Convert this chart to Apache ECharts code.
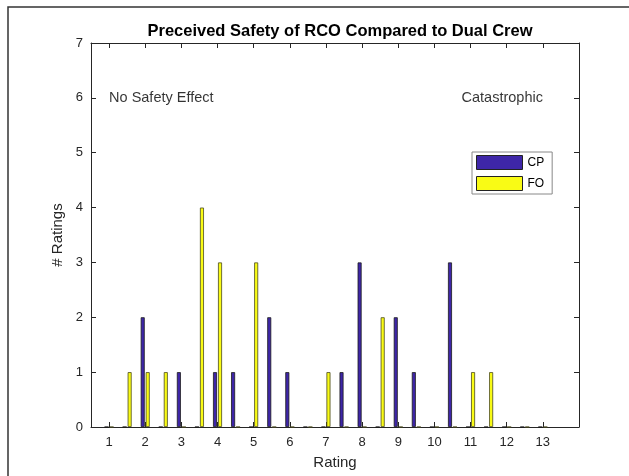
<!DOCTYPE html>
<html>
<head>
<meta charset="utf-8">
<script src="https://cdn.jsdelivr.net/npm/echarts@6/dist/echarts.min.js"></script>
<style>html,body{margin:0;padding:0;background:#fff}#c{width:629px;height:476px}</style>
</head>
<body>
<div id="c"></div>
<script>
// Rating positions (bar groups)
var ratings = [1,1.5,2,2.5,3,3.5,4,4.5,5,5.5,6,6.5,7,7.5,8,8.5,9,9.5,10,10.5,11,11.5,12,12.5,13];
var cpValues = [0,0,2,0,1,0,1,1,0,2,1,0,0,1,3,0,2,1,0,3,0,0,0,0,0];
var foValues = [0,1,1,1,0,4,3,0,3,0,0,0,1,0,0,2,0,0,0,0,1,1,0,0,0];
var xTicks = [1,2,3,4,5,6,7,8,9,10,11,12,13];
var yTicks = [0,1,2,3,4,5,6,7];
var annotations = [[1,6,'No Safety Effect'],[10.75,6,'Catastrophic']];
var seriesNames = ['CP','FO'];
var titleText = 'Preceived Safety of RCO Compared to Dual Crew';

var FONT = "'Liberation Sans', Arial, sans-serif";
var AX = '#262626';

function pairs(vals){ return ratings.map(function(r,i){ return [r, vals[i]]; }); }

var chart = echarts.init(document.getElementById('c'));
var xBase = {
  type:'value', min:0.5, max:14,
  axisLine:{show:true, onZero:false, lineStyle:{color:AX, width:1}},
  splitLine:{show:false},
  axisTick:{show:true, inside:true, length:5, customValues:xTicks, lineStyle:{color:AX}},
  axisLabel:{show:true, customValues:xTicks, color:AX, fontSize:13, fontFamily:FONT, margin:9}
};
var yBase = {
  type:'value', min:0, max:7, interval:1,
  axisLine:{show:true, onZero:false, lineStyle:{color:AX, width:1}},
  splitLine:{show:false},
  axisTick:{show:true, inside:true, length:5, lineStyle:{color:AX}},
  axisLabel:{show:true, color:AX, fontSize:13, fontFamily:FONT, margin:8}
};
var option = {
  animation:false,
  backgroundColor:'#fff',
  textStyle:{fontFamily:FONT},
  title:{text:titleText, left:335, textAlign:'center', top:18,
    textStyle:{fontSize:16.5, fontWeight:'bold', color:'#000', fontFamily:FONT}},
  grid:{left:91, right:50, top:43, bottom:49},
  legend:{data:seriesNames, orient:'vertical', left:472, top:152, itemWidth:46, itemHeight:14, itemGap:6,
    padding:[3,8,3,4], borderColor:'#888', borderWidth:1, backgroundColor:'#fff',
    textStyle:{fontSize:12, color:'#000', fontFamily:FONT}, icon:'rect',
    itemStyle:{borderColor:'#222', borderWidth:1}},
  xAxis:[
    Object.assign({}, xBase, {position:'bottom', name:'Rating', nameLocation:'middle', nameGap:28,
      nameTextStyle:{fontSize:15, color:AX, fontFamily:FONT}}),
    Object.assign({}, xBase, {position:'top', axisLabel:{show:false, customValues:xTicks}})
  ],
  yAxis:[
    Object.assign({}, yBase, {position:'left', name:'# Ratings', nameLocation:'middle', nameGap:22,
      nameTextStyle:{fontSize:15, color:AX, fontFamily:FONT}}),
    Object.assign({}, yBase, {position:'right', axisLabel:{show:false}})
  ],
  series:[
    {name:seriesNames[0], type:'bar', data:pairs(cpValues), barWidth:4, barGap:'25%',
      itemStyle:{color:'#3E26A8', borderColor:'#1a1a1a', borderWidth:0.8}},
    {name:seriesNames[1], type:'bar', data:pairs(foValues), barWidth:4, barGap:'25%',
      itemStyle:{color:'#F9FB15', borderColor:'#4a4a20', borderWidth:0.8}},
    {name:'notes', type:'scatter', data:annotations, symbolSize:0, silent:true,
      label:{show:true, position:'right', distance:0, color:'#000', fontSize:14.5, fontFamily:FONT,
        formatter:function(p){ return p.value[2]; }}}
  ],
  graphic:[{type:'rect', shape:{x:8, y:7, width:700, height:600}, style:{fill:'none', stroke:'#333', lineWidth:1.5}, z:100}]
};
chart.setOption(option);
</script>
</body>
</html>
